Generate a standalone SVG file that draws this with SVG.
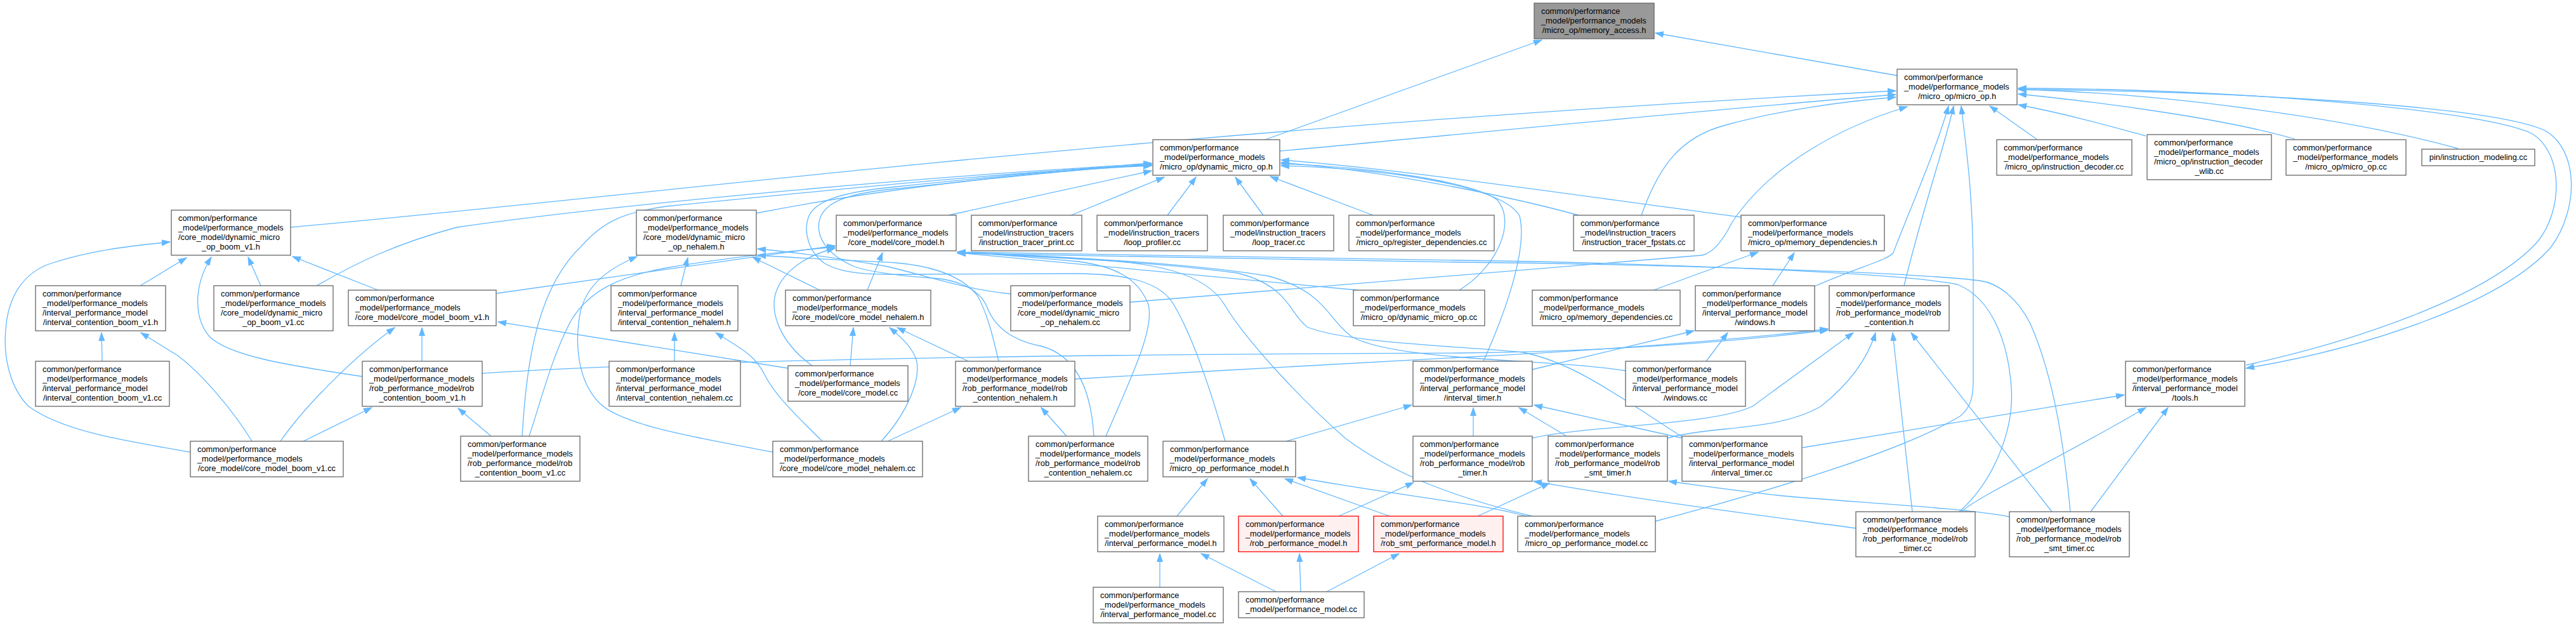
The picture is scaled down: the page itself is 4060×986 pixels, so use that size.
<svg xmlns="http://www.w3.org/2000/svg" width="4060" height="986" viewBox="0 0 4060 986">
<style>
.node rect{fill:#fff;stroke:#666;stroke-width:1.3}
.node.gray rect{fill:#999}
.node.red rect{fill:#fff0f0;stroke:#f00}
.node text{font-family:"Liberation Sans",Arial,Helvetica,sans-serif;font-size:12.8px;fill:#000}
.node .c{text-anchor:middle}
.e path{fill:none;stroke:#63b8ff;stroke-width:1.3;marker-end:url(#a)}
</style>
<defs>
<marker id="a" markerUnits="userSpaceOnUse" markerWidth="14" markerHeight="10" refX="13" refY="5" orient="auto"><path d="M0,0.5 L13,5 L0,9.5 z" fill="#63b8ff" stroke="#63b8ff" stroke-width="1"/></marker>
</defs>
<rect width="4060" height="986" fill="#fff"/>
<g id="edges" class="e">
<path d="M2990,119 L2609,52"/>
<path d="M1994,220 L2430,63"/>
<path d="M458,358 C1100,300 1800,205 2988,143"/>
<path d="M2017,238 C2300,212 2700,172 2988,149"/>
<path d="M2587,339 C2615,260 2650,215 2720,197 C2800,175 2900,160 2988,153"/>
<path d="M1781,476 L2683,402 C2700,398 2715,380 2730,350 C2790,260 2900,200 3006,168"/>
<path d="M2860,451 C2930,420 2975,410 2984,398 C3010,330 3050,240 3071,167"/>
<path d="M3001,450 C3030,330 3065,230 3079,167"/>
<path d="M2609,821 C2800,770 3000,710 3090,655 C3108,640 3110,620 3110,600 L3110,430 C3110,300 3097,220 3091,167"/>
<path d="M3211,220 L3136,167"/>
<path d="M3382,214 C3330,200 3260,180 3181,165"/>
<path d="M3617,219 C3500,185 3300,160 3181,148"/>
<path d="M3874,234 C3700,185 3400,146 3181,141"/>
<path d="M3181,141 C3500,143 3920,165 4010,205 C4065,235 4065,330 4020,390 C3940,480 3720,550 3540,580"/>
<path d="M3540,575 C3700,540 3920,470 4000,380 C4040,330 4040,240 3990,210 C3900,170 3500,140 3181,139"/>
<path d="M2841,705 L3348,622"/>
<path d="M3091,806 C3120,780 3250,720 3382,642"/>
<path d="M3295,806 L3417,642"/>
<path d="M3014,806 L2983,524"/>
<path d="M3234,806 L3012,524"/>
<path d="M2415,690 C2500,670 2700,670 2762,640 L2921,524"/>
<path d="M2628,690 C2700,670 2800,680 2870,640 C2920,600 2945,560 2956,524"/>
<path d="M760,588 C1200,560 2000,557 2300,556 C2600,553 2800,530 2881,520"/>
<path d="M1694,597 C1900,585 2150,570 2300,563 C2600,548 2800,528 2881,518"/>
<path d="M2689,569 L2723,524"/>
<path d="M2415,582 L2670,521"/>
<path d="M2794,450 L2828,398"/>
<path d="M2606,457 L2771,397"/>
<path d="M2744,342 C2500,310 2200,265 2019,252"/>
<path d="M2488,339 C2400,315 2200,270 2019,256"/>
<path d="M2300,457 C2360,420 2390,350 2360,315 C2320,285 2150,262 2019,258"/>
<path d="M2338,569 C2360,520 2410,400 2395,340 C2370,295 2200,266 2019,261"/>
<path d="M1495,339 L1815,269"/>
<path d="M1688,339 L1835,279"/>
<path d="M1840,339 L1885,279"/>
<path d="M1991,339 L1947,279"/>
<path d="M2164,339 L2002,278"/>
<path d="M499,450 C560,415 620,385 720,358 C1000,318 1500,275 1815,258"/>
<path d="M1191,336 C1400,295 1650,268 1815,261"/>
<path d="M823,687 C830,560 850,450 917,387 C950,350 980,335 1050,325 C1300,300 1600,270 1815,260"/>
<path d="M1724,687 C1720,620 1700,560 1640,545 C1590,535 1565,510 1555,482 C1540,450 1500,440 1470,438 C1420,435 1370,428 1347,420 C1300,400 1285,370 1292,345 C1300,320 1330,305 1413,297 C1550,283 1700,266 1815,259"/>
<path d="M1931,695 C1910,620 1880,530 1850,480 C1830,445 1780,432 1700,431 L1450,432 C1380,433 1330,433 1300,415 C1275,398 1265,365 1275,340 C1285,318 1320,303 1413,294 C1550,280 1700,265 1815,257"/>
<path d="M1574,569 C1565,530 1555,490 1540,465 C1520,440 1480,420 1413,414 C1340,410 1280,408 1194,402"/>
<path d="M1218,712 C1100,690 980,670 945,635 C910,600 905,540 915,490 C925,450 955,425 1004,404"/>
<path d="M1073,450 L1084,406"/>
<path d="M1292,457 L1186,405"/>
<path d="M1593,463 C1520,455 1480,440 1400,420 C1330,408 1260,398 1194,392"/>
<path d="M783,462 L1316,387"/>
<path d="M834,687 C850,640 870,560 900,505 C930,455 980,435 1050,422 C1150,405 1250,395 1316,389"/>
<path d="M1280,576 C1230,540 1210,490 1225,455 C1240,420 1280,400 1316,391"/>
<path d="M1367,457 L1391,398"/>
<path d="M2140,457 L1509,398"/>
<path d="M1743,687 C1780,600 1820,520 1810,480 C1795,440 1760,420 1700,412 C1620,405 1560,400 1509,397"/>
<path d="M2415,813 C2300,785 2200,750 2120,690 C2040,620 1960,530 1930,480 C1900,430 1820,412 1700,408 C1620,404 1560,400 1509,397"/>
<path d="M2651,688 C2560,630 2480,570 2400,555 C2300,545 2120,540 2060,515 C2030,490 2030,450 1950,430 C1800,410 1600,402 1509,397"/>
<path d="M2562,584 C2450,565 2200,570 2130,530 C2090,500 2090,460 2000,435 C1850,410 1600,402 1509,397"/>
<path d="M3088,806 C3140,760 3175,680 3170,610 C3165,540 3140,470 3085,448 C3000,430 2600,414 2300,410 C2000,405 1700,400 1509,397"/>
<path d="M3263,806 C3255,720 3240,600 3200,510 C3180,470 3150,446 3120,442 C3000,428 2600,416 2300,413 C2000,407 1700,402 1509,399"/>
<path d="M300,712 C200,695 100,680 45,640 C15,610 5,560 9,520 C12,470 35,430 80,415 C140,395 200,388 268,381"/>
<path d="M221,450 L294,406"/>
<path d="M571,593 C450,575 360,560 330,530 C305,500 305,450 333,405"/>
<path d="M411,450 L391,405"/>
<path d="M596,457 L461,404"/>
<path d="M161,569 L160,524"/>
<path d="M397,695 C370,650 320,590 280,560 C255,545 240,535 222,524"/>
<path d="M442,695 C480,640 560,560 622,516"/>
<path d="M665,569 L665,516"/>
<path d="M1242,580 L785,507"/>
<path d="M478,695 L586,642"/>
<path d="M774,687 L722,643"/>
<path d="M1063,569 L1063,524"/>
<path d="M1296,695 C1250,650 1220,620 1205,590 C1190,560 1170,550 1128,524"/>
<path d="M1340,576 L1345,516"/>
<path d="M1389,695 C1430,650 1450,600 1445,570 C1440,550 1425,535 1402,516"/>
<path d="M1526,569 L1414,516"/>
<path d="M1399,695 L1514,642"/>
<path d="M1681,687 L1641,642"/>
<path d="M2322,687 L2322,642"/>
<path d="M2469,687 L2394,642"/>
<path d="M2651,690 L2418,638"/>
<path d="M2027,695 L2225,638"/>
<path d="M1855,813 L1903,754"/>
<path d="M2022,813 L1970,754"/>
<path d="M2190,813 L2025,754"/>
<path d="M2408,814 C2350,795 2200,780 2045,752"/>
<path d="M2110,813 L2228,760"/>
<path d="M2925,832 C2800,815 2600,790 2417,758"/>
<path d="M2329,813 L2442,761"/>
<path d="M3167,814 C3100,800 2900,790 2800,780 C2730,772 2680,765 2630,758"/>
<path d="M1828,925 L1828,872"/>
<path d="M2011,932 L1893,872"/>
<path d="M2050,932 L2048,872"/>
<path d="M2091,932 L2205,872"/>
</g>
<g id="n0" class="node gray"><rect x="2418" y="5" width="189" height="56"/><text><tspan x="2429" y="22">common/performance</tspan><tspan x="2429" y="37">_model/performance_models</tspan><tspan class="c" x="2512.5" y="52">/micro_op/memory_access.h</tspan></text></g>
<g id="n1" class="node"><rect x="2990" y="109" width="189" height="56"/><text><tspan x="3001" y="126">common/performance</tspan><tspan x="3001" y="141">_model/performance_models</tspan><tspan class="c" x="3084.5" y="156">/micro_op/micro_op.h</tspan></text></g>
<g id="n2" class="node"><rect x="1817" y="220" width="200" height="56"/><text><tspan x="1828" y="237">common/performance</tspan><tspan x="1828" y="252">_model/performance_models</tspan><tspan class="c" x="1917" y="267">/micro_op/dynamic_micro_op.h</tspan></text></g>
<g id="n3" class="node"><rect x="3147" y="220" width="213" height="56"/><text><tspan x="3158" y="237">common/performance</tspan><tspan x="3158" y="252">_model/performance_models</tspan><tspan class="c" x="3253.5" y="267">/micro_op/instruction_decoder.cc</tspan></text></g>
<g id="n4" class="node"><rect x="3384" y="212" width="196" height="71"/><text><tspan x="3395" y="229">common/performance</tspan><tspan x="3395" y="244">_model/performance_models</tspan><tspan x="3395" y="259">/micro_op/instruction_decoder</tspan><tspan class="c" x="3482" y="274">_wlib.cc</tspan></text></g>
<g id="n5" class="node"><rect x="3603" y="220" width="189" height="56"/><text><tspan x="3614" y="237">common/performance</tspan><tspan x="3614" y="252">_model/performance_models</tspan><tspan class="c" x="3697.5" y="267">/micro_op/micro_op.cc</tspan></text></g>
<g id="n6" class="node"><rect x="3817" y="235" width="178" height="26"/><text><tspan class="c" x="3906" y="252">pin/instruction_modeling.cc</tspan></text></g>
<g id="n7" class="node"><rect x="270" y="331" width="188" height="71"/><text><tspan x="281" y="348">common/performance</tspan><tspan x="281" y="363">_model/performance_models</tspan><tspan x="281" y="378">/core_model/dynamic_micro</tspan><tspan class="c" x="364" y="393">_op_boom_v1.h</tspan></text></g>
<g id="n8" class="node"><rect x="1003" y="331" width="189" height="71"/><text><tspan x="1014" y="348">common/performance</tspan><tspan x="1014" y="363">_model/performance_models</tspan><tspan x="1014" y="378">/core_model/dynamic_micro</tspan><tspan class="c" x="1097.5" y="393">_op_nehalem.h</tspan></text></g>
<g id="n9" class="node"><rect x="1318" y="339" width="189" height="56"/><text><tspan x="1329" y="356">common/performance</tspan><tspan x="1329" y="371">_model/performance_models</tspan><tspan class="c" x="1412.5" y="386">/core_model/core_model.h</tspan></text></g>
<g id="n10" class="node"><rect x="1531" y="339" width="174" height="56"/><text><tspan x="1542" y="356">common/performance</tspan><tspan x="1542" y="371">_model/instruction_tracers</tspan><tspan class="c" x="1618" y="386">/instruction_tracer_print.cc</tspan></text></g>
<g id="n11" class="node"><rect x="1729" y="339" width="174" height="56"/><text><tspan x="1740" y="356">common/performance</tspan><tspan x="1740" y="371">_model/instruction_tracers</tspan><tspan class="c" x="1816" y="386">/loop_profiler.cc</tspan></text></g>
<g id="n12" class="node"><rect x="1928" y="339" width="174" height="56"/><text><tspan x="1939" y="356">common/performance</tspan><tspan x="1939" y="371">_model/instruction_tracers</tspan><tspan class="c" x="2015" y="386">/loop_tracer.cc</tspan></text></g>
<g id="n13" class="node"><rect x="2126" y="339" width="229" height="56"/><text><tspan x="2137" y="356">common/performance</tspan><tspan x="2137" y="371">_model/performance_models</tspan><tspan class="c" x="2240.5" y="386">/micro_op/register_dependencies.cc</tspan></text></g>
<g id="n14" class="node"><rect x="2480" y="339" width="190" height="56"/><text><tspan x="2491" y="356">common/performance</tspan><tspan x="2491" y="371">_model/instruction_tracers</tspan><tspan class="c" x="2575" y="386">/instruction_tracer_fpstats.cc</tspan></text></g>
<g id="n15" class="node"><rect x="2744" y="339" width="226" height="56"/><text><tspan x="2755" y="356">common/performance</tspan><tspan x="2755" y="371">_model/performance_models</tspan><tspan class="c" x="2857" y="386">/micro_op/memory_dependencies.h</tspan></text></g>
<g id="n16" class="node"><rect x="56" y="450" width="205" height="71"/><text><tspan x="67" y="467">common/performance</tspan><tspan x="67" y="482">_model/performance_models</tspan><tspan x="67" y="497">/interval_performance_model</tspan><tspan class="c" x="158.5" y="512">/interval_contention_boom_v1.h</tspan></text></g>
<g id="n17" class="node"><rect x="337" y="450" width="188" height="71"/><text><tspan x="348" y="467">common/performance</tspan><tspan x="348" y="482">_model/performance_models</tspan><tspan x="348" y="497">/core_model/dynamic_micro</tspan><tspan class="c" x="431" y="512">_op_boom_v1.cc</tspan></text></g>
<g id="n18" class="node"><rect x="549" y="457" width="233" height="56"/><text><tspan x="560" y="474">common/performance</tspan><tspan x="560" y="489">_model/performance_models</tspan><tspan class="c" x="665.5" y="504">/core_model/core_model_boom_v1.h</tspan></text></g>
<g id="n19" class="node"><rect x="963" y="450" width="200" height="71"/><text><tspan x="974" y="467">common/performance</tspan><tspan x="974" y="482">_model/performance_models</tspan><tspan x="974" y="497">/interval_performance_model</tspan><tspan class="c" x="1063" y="512">/interval_contention_nehalem.h</tspan></text></g>
<g id="n20" class="node"><rect x="1238" y="457" width="229" height="56"/><text><tspan x="1249" y="474">common/performance</tspan><tspan x="1249" y="489">_model/performance_models</tspan><tspan class="c" x="1352.5" y="504">/core_model/core_model_nehalem.h</tspan></text></g>
<g id="n21" class="node"><rect x="1593" y="450" width="188" height="71"/><text><tspan x="1604" y="467">common/performance</tspan><tspan x="1604" y="482">_model/performance_models</tspan><tspan x="1604" y="497">/core_model/dynamic_micro</tspan><tspan class="c" x="1687" y="512">_op_nehalem.cc</tspan></text></g>
<g id="n22" class="node"><rect x="2133" y="457" width="207" height="56"/><text><tspan x="2144" y="474">common/performance</tspan><tspan x="2144" y="489">_model/performance_models</tspan><tspan class="c" x="2236.5" y="504">/micro_op/dynamic_micro_op.cc</tspan></text></g>
<g id="n23" class="node"><rect x="2415" y="457" width="233" height="56"/><text><tspan x="2426" y="474">common/performance</tspan><tspan x="2426" y="489">_model/performance_models</tspan><tspan class="c" x="2531.5" y="504">/micro_op/memory_dependencies.cc</tspan></text></g>
<g id="n24" class="node"><rect x="2672" y="450" width="188" height="71"/><text><tspan x="2683" y="467">common/performance</tspan><tspan x="2683" y="482">_model/performance_models</tspan><tspan x="2683" y="497">/interval_performance_model</tspan><tspan class="c" x="2766" y="512">/windows.h</tspan></text></g>
<g id="n25" class="node"><rect x="2883" y="450" width="189" height="71"/><text><tspan x="2894" y="467">common/performance</tspan><tspan x="2894" y="482">_model/performance_models</tspan><tspan x="2894" y="497">/rob_performance_model/rob</tspan><tspan class="c" x="2977.5" y="512">_contention.h</tspan></text></g>
<g id="n26" class="node"><rect x="56" y="569" width="211" height="71"/><text><tspan x="67" y="586">common/performance</tspan><tspan x="67" y="601">_model/performance_models</tspan><tspan x="67" y="616">/interval_performance_model</tspan><tspan class="c" x="161.5" y="631">/interval_contention_boom_v1.cc</tspan></text></g>
<g id="n27" class="node"><rect x="571" y="569" width="189" height="71"/><text><tspan x="582" y="586">common/performance</tspan><tspan x="582" y="601">_model/performance_models</tspan><tspan x="582" y="616">/rob_performance_model/rob</tspan><tspan class="c" x="665.5" y="631">_contention_boom_v1.h</tspan></text></g>
<g id="n28" class="node"><rect x="960" y="569" width="207" height="71"/><text><tspan x="971" y="586">common/performance</tspan><tspan x="971" y="601">_model/performance_models</tspan><tspan x="971" y="616">/interval_performance_model</tspan><tspan class="c" x="1063.5" y="631">/interval_contention_nehalem.cc</tspan></text></g>
<g id="n29" class="node"><rect x="1242" y="576" width="189" height="56"/><text><tspan x="1253" y="593">common/performance</tspan><tspan x="1253" y="608">_model/performance_models</tspan><tspan class="c" x="1336.5" y="623">/core_model/core_model.cc</tspan></text></g>
<g id="n30" class="node"><rect x="1506" y="569" width="188" height="71"/><text><tspan x="1517" y="586">common/performance</tspan><tspan x="1517" y="601">_model/performance_models</tspan><tspan x="1517" y="616">/rob_performance_model/rob</tspan><tspan class="c" x="1600" y="631">_contention_nehalem.h</tspan></text></g>
<g id="n31" class="node"><rect x="2227" y="569" width="188" height="71"/><text><tspan x="2238" y="586">common/performance</tspan><tspan x="2238" y="601">_model/performance_models</tspan><tspan x="2238" y="616">/interval_performance_model</tspan><tspan class="c" x="2321" y="631">/interval_timer.h</tspan></text></g>
<g id="n32" class="node"><rect x="2562" y="569" width="189" height="71"/><text><tspan x="2573" y="586">common/performance</tspan><tspan x="2573" y="601">_model/performance_models</tspan><tspan x="2573" y="616">/interval_performance_model</tspan><tspan class="c" x="2656.5" y="631">/windows.cc</tspan></text></g>
<g id="n33" class="node"><rect x="3350" y="569" width="188" height="71"/><text><tspan x="3361" y="586">common/performance</tspan><tspan x="3361" y="601">_model/performance_models</tspan><tspan x="3361" y="616">/interval_performance_model</tspan><tspan class="c" x="3444" y="631">/tools.h</tspan></text></g>
<g id="n34" class="node"><rect x="300" y="695" width="241" height="56"/><text><tspan x="311" y="712">common/performance</tspan><tspan x="311" y="727">_model/performance_models</tspan><tspan class="c" x="420.5" y="742">/core_model/core_model_boom_v1.cc</tspan></text></g>
<g id="n35" class="node"><rect x="726" y="687" width="188" height="71"/><text><tspan x="737" y="704">common/performance</tspan><tspan x="737" y="719">_model/performance_models</tspan><tspan x="737" y="734">/rob_performance_model/rob</tspan><tspan class="c" x="820" y="749">_contention_boom_v1.cc</tspan></text></g>
<g id="n36" class="node"><rect x="1218" y="695" width="236" height="56"/><text><tspan x="1229" y="712">common/performance</tspan><tspan x="1229" y="727">_model/performance_models</tspan><tspan class="c" x="1336" y="742">/core_model/core_model_nehalem.cc</tspan></text></g>
<g id="n37" class="node"><rect x="1621" y="687" width="188" height="71"/><text><tspan x="1632" y="704">common/performance</tspan><tspan x="1632" y="719">_model/performance_models</tspan><tspan x="1632" y="734">/rob_performance_model/rob</tspan><tspan class="c" x="1715" y="749">_contention_nehalem.cc</tspan></text></g>
<g id="n38" class="node"><rect x="1833" y="695" width="209" height="56"/><text><tspan x="1844" y="712">common/performance</tspan><tspan x="1844" y="727">_model/performance_models</tspan><tspan class="c" x="1937.5" y="742">/micro_op_performance_model.h</tspan></text></g>
<g id="n39" class="node"><rect x="2227" y="687" width="188" height="71"/><text><tspan x="2238" y="704">common/performance</tspan><tspan x="2238" y="719">_model/performance_models</tspan><tspan x="2238" y="734">/rob_performance_model/rob</tspan><tspan class="c" x="2321" y="749">_timer.h</tspan></text></g>
<g id="n40" class="node"><rect x="2440" y="687" width="188" height="71"/><text><tspan x="2451" y="704">common/performance</tspan><tspan x="2451" y="719">_model/performance_models</tspan><tspan x="2451" y="734">/rob_performance_model/rob</tspan><tspan class="c" x="2534" y="749">_smt_timer.h</tspan></text></g>
<g id="n41" class="node"><rect x="2651" y="687" width="189" height="71"/><text><tspan x="2662" y="704">common/performance</tspan><tspan x="2662" y="719">_model/performance_models</tspan><tspan x="2662" y="734">/interval_performance_model</tspan><tspan class="c" x="2745.5" y="749">/interval_timer.cc</tspan></text></g>
<g id="n42" class="node"><rect x="1730" y="813" width="199" height="56"/><text><tspan x="1741" y="830">common/performance</tspan><tspan x="1741" y="845">_model/performance_models</tspan><tspan class="c" x="1829.5" y="860">/interval_performance_model.h</tspan></text></g>
<g id="n43" class="node red"><rect x="1952" y="813" width="189" height="56"/><text><tspan x="1963" y="830">common/performance</tspan><tspan x="1963" y="845">_model/performance_models</tspan><tspan class="c" x="2046.5" y="860">/rob_performance_model.h</tspan></text></g>
<g id="n44" class="node red"><rect x="2165" y="813" width="204" height="56"/><text><tspan x="2176" y="830">common/performance</tspan><tspan x="2176" y="845">_model/performance_models</tspan><tspan class="c" x="2267" y="860">/rob_smt_performance_model.h</tspan></text></g>
<g id="n45" class="node"><rect x="2392" y="813" width="217" height="56"/><text><tspan x="2403" y="830">common/performance</tspan><tspan x="2403" y="845">_model/performance_models</tspan><tspan class="c" x="2500.5" y="860">/micro_op_performance_model.cc</tspan></text></g>
<g id="n46" class="node"><rect x="2925" y="806" width="188" height="71"/><text><tspan x="2936" y="823">common/performance</tspan><tspan x="2936" y="838">_model/performance_models</tspan><tspan x="2936" y="853">/rob_performance_model/rob</tspan><tspan class="c" x="3019" y="868">_timer.cc</tspan></text></g>
<g id="n47" class="node"><rect x="3167" y="806" width="189" height="71"/><text><tspan x="3178" y="823">common/performance</tspan><tspan x="3178" y="838">_model/performance_models</tspan><tspan x="3178" y="853">/rob_performance_model/rob</tspan><tspan class="c" x="3261.5" y="868">_smt_timer.cc</tspan></text></g>
<g id="n48" class="node"><rect x="1723" y="925" width="205" height="56"/><text><tspan x="1734" y="942">common/performance</tspan><tspan x="1734" y="957">_model/performance_models</tspan><tspan class="c" x="1825.5" y="972">/interval_performance_model.cc</tspan></text></g>
<g id="n49" class="node"><rect x="1952" y="932" width="198" height="41"/><text><tspan x="1963" y="949">common/performance</tspan><tspan class="c" x="2051" y="964">_model/performance_model.cc</tspan></text></g>
</svg>
